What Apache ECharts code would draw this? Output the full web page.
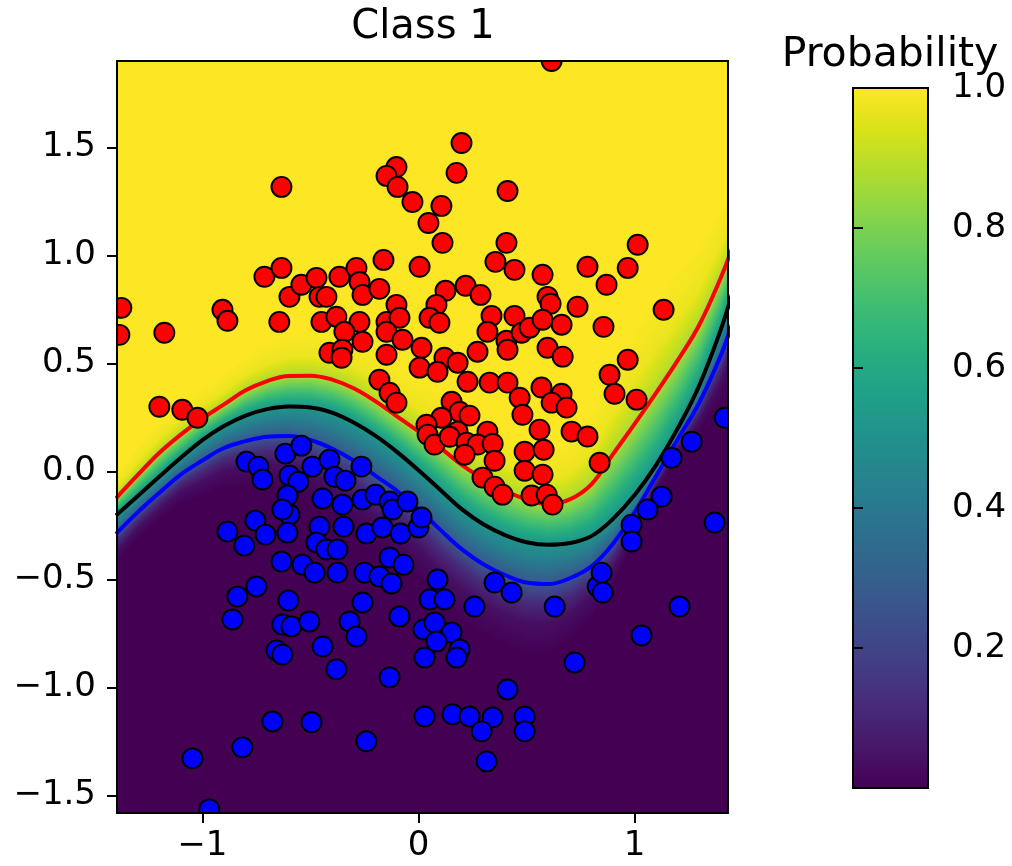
<!DOCTYPE html>
<html>
<head>
<meta charset="utf-8">
<script src="https://cdn.jsdelivr.net/npm/echarts@6/dist/echarts.min.js"></script>
<style>
html,body{margin:0;padding:0;background:#fff;}
#chart{width:1012px;height:866px;}
</style>
</head>
<body>
<div id="chart"></div>
<script>
// ---------- data ----------
const xTicks = [-1, 0, 1];
const yTicks = [-1.5, -1.0, -0.5, 0.0, 0.5, 1.0, 1.5];
const colorbarTicks = [0.2, 0.4, 0.6, 0.8, 1.0];

// contour lines of the probability surface (x positions and y values)
const curveX = [-1.40,-1.30,-1.20,-1.10,-1.00,-0.90,-0.80,-0.70,-0.60,-0.50,-0.40,-0.30,-0.20,-0.10,0.00,0.10,0.20,0.30,0.40,0.50,0.60,0.70,0.80,0.90,1.00,1.10,1.20,1.30,1.40,1.45];
const upperY = [-0.125,-0.018,0.085,0.170,0.245,0.310,0.375,0.418,0.442,0.443,0.425,0.385,0.325,0.255,0.185,0.110,0.030,-0.035,-0.090,-0.130,-0.152,-0.130,-0.060,0.080,0.220,0.365,0.515,0.680,0.900,1.030];
const boundaryY = [-0.205,-0.115,-0.025,0.063,0.145,0.210,0.258,0.288,0.300,0.296,0.272,0.226,0.165,0.090,0.005,-0.085,-0.175,-0.245,-0.295,-0.328,-0.340,-0.332,-0.300,-0.220,-0.110,0.030,0.200,0.400,0.660,0.820];
const lowerY = [-0.290,-0.190,-0.100,-0.015,0.050,0.108,0.140,0.160,0.164,0.145,0.105,0.050,-0.020,-0.090,-0.175,-0.270,-0.360,-0.430,-0.480,-0.515,-0.522,-0.495,-0.440,-0.335,-0.190,-0.020,0.150,0.320,0.540,0.680];

// class 1 (red) samples
const class1Points = [
[0.616,1.900],[0.199,1.520],[-0.634,1.317],[-0.102,1.409],[-0.148,1.368],[-0.097,1.317],[-0.028,1.247],[0.046,1.150],[0.176,1.382],[0.412,1.298],[0.106,1.229],[0.111,1.058],[0.407,1.058],[0.356,0.970],[0.444,0.933],[0.574,0.910],[0.782,0.947],[1.014,1.049],[0.968,0.942],[0.870,0.864],[0.125,0.836],[0.218,0.859],[0.287,0.817],[0.083,0.771],[0.051,0.711],[0.097,0.688],[0.597,0.808],[0.611,0.776],[0.736,0.762],[1.134,0.748],[0.338,0.720],[0.444,0.720],[0.005,0.947],
[-0.713,0.901],[-0.634,0.942],[-0.597,0.808],[-0.542,0.864],[-0.472,0.896],[-0.458,0.808],[-0.426,0.808],[-0.366,0.901],[-0.287,0.942],[-0.273,0.877],[-0.259,0.817],[-0.181,0.845],[-0.162,0.979],[-1.375,0.757],[-1.384,0.632],[-1.176,0.642],[-0.907,0.748],[-0.884,0.697],[-0.644,0.692],[-0.449,0.692],[-0.380,0.716],[-0.273,0.692],[-0.343,0.646],[-0.259,0.600],[-0.412,0.549],[-0.352,0.563],[-0.356,0.526],[-0.148,0.692],[-0.102,0.771],[-0.088,0.711],[-0.148,0.646],[-0.074,0.609],[-0.148,0.540],[0.014,0.572],[0.005,0.480],[-0.181,0.424],[-0.134,0.364],[-0.102,0.318],[-1.199,0.299],[-1.093,0.285],[-1.023,0.248],
[0.319,0.646],[0.407,0.605],[0.412,0.563],[0.477,0.642],[0.514,0.665],[0.574,0.702],[0.662,0.679],[0.856,0.669],[0.597,0.572],[0.667,0.531],[0.120,0.526],[0.181,0.503],[0.273,0.554],[0.088,0.461],[0.227,0.415],[0.329,0.411],[0.412,0.411],[0.569,0.388],[0.662,0.359],[0.968,0.517],[0.884,0.447],[0.907,0.359],[1.009,0.332],[0.153,0.322],[0.468,0.341],[0.616,0.318],[0.685,0.295],[0.190,0.276],[0.236,0.258],[0.106,0.248],[0.181,0.184],[0.319,0.184],[0.037,0.216],[0.042,0.170],[0.074,0.124],[0.144,0.160],[0.222,0.133],[0.273,0.124],[0.343,0.128],[0.213,0.077],[0.352,0.049],[0.491,0.091],[0.579,0.100],[0.560,0.193],[0.708,0.184],[0.782,0.161],[0.491,0.003],[0.574,-0.015],[0.838,0.040],[0.296,-0.029],[0.352,-0.071],[0.389,-0.108],[0.523,-0.112],[0.593,-0.108],[0.620,-0.154],[0.481,0.262]
];

// class 0 (blue) samples
const class0Points = [
[-0.796,0.045],[-0.741,0.022],[-0.722,-0.038],[-0.616,0.082],[-0.542,0.119],[-0.597,-0.020],[-0.556,-0.048],[-0.491,0.022],[-0.412,0.054],[-0.389,-0.025],[-0.338,-0.043],[-0.264,0.022],[-0.606,-0.112],[-0.444,-0.126],[-0.352,-0.154],[-0.259,-0.131],[-0.199,-0.108],[-0.134,-0.140],[-0.120,-0.177],[-0.051,-0.140],[-0.597,-0.200],[-0.630,-0.177],[-0.755,-0.228],[-0.884,-0.279],[-0.708,-0.293],[-0.606,-0.284],[-0.806,-0.344],[-0.458,-0.256],[-0.347,-0.256],[-0.241,-0.288],[-0.167,-0.260],[-0.083,-0.288],[0.000,-0.260],[-0.472,-0.330],[-0.426,-0.362],[-0.375,-0.362],[-0.634,-0.418],[-0.537,-0.432],[-0.481,-0.469],[-0.375,-0.469],[-0.250,-0.469],[-0.134,-0.399],[-0.069,-0.432],[-0.181,-0.487],[-0.125,-0.519],[-0.750,-0.533],[-0.838,-0.580],[-0.602,-0.598],[-0.259,-0.607],[0.051,-0.593],[-0.861,-0.686],[-0.630,-0.709],[-0.588,-0.718],[-0.505,-0.695],[-0.657,-0.829],[-0.630,-0.848],[-0.444,-0.811],[-0.380,-0.917],[-0.319,-0.695],[-0.287,-0.765],[-0.134,-0.954],[-0.088,-0.672],[0.023,-0.732],[0.028,-0.862],[-0.676,-1.158],[-0.495,-1.162],[-0.815,-1.278],[-1.046,-1.329],[-0.241,-1.250],[0.028,-1.135],[-0.968,-1.565],
[0.088,-0.501],[0.120,-0.593],[0.259,-0.626],[0.074,-0.700],[0.153,-0.746],[0.083,-0.788],[0.190,-0.825],[0.176,-0.862],[0.352,-0.515],[0.431,-0.561],[0.630,-0.626],[0.829,-0.533],[0.847,-0.469],[0.852,-0.561],[1.208,-0.626],[1.032,-0.760],[0.722,-0.885],[0.412,-1.010],[0.157,-1.125],[0.236,-1.135],[0.343,-1.139],[0.292,-1.204],[0.491,-1.135],[0.491,-1.204],[0.315,-1.343],[1.417,0.248],[1.264,0.137],[1.171,0.063],[1.125,-0.117],[1.060,-0.177],[0.986,-0.247],[0.986,-0.325],[1.370,-0.237],[0.014,-0.214]
];

// ---------- styling ----------
const X_MIN = -1.395, X_MAX = 1.432, Y_MIN = -1.582, Y_MAX = 1.90;
const FONT = 'DejaVu Sans';
const VIRIDIS = ['#440154','#48186a','#472d7b','#424086','#3b528b','#33638d','#2c728e','#26828e','#21918c','#1fa088','#28ae80','#3fbc73','#5ec962','#84d44b','#addc30','#d8e219','#fde725'];
// colour profile across the contour band: [offset in contour gaps, probability]
const bandProfile = [[2.4,1.0],[1.6,0.97],[1.0,0.87],[0.5,0.70],[0.0,0.52],[-0.5,0.40],[-1.0,0.27],[-1.5,0.12],[-2.0,0.04],[-2.8,0.0]];

function hexToRgb(h){return [parseInt(h.slice(1,3),16),parseInt(h.slice(3,5),16),parseInt(h.slice(5,7),16)];}
function viridis(p){
  p = Math.max(0, Math.min(1, p));
  const n = VIRIDIS.length - 1, f = p * n;
  const i = Math.min(n - 1, Math.floor(f)), t = f - i;
  const a = hexToRgb(VIRIDIS[i]), b = hexToRgb(VIRIDIS[i + 1]);
  return 'rgb(' + a.map((v, k) => Math.round(v + (b[k] - v) * t)).join(',') + ')';
}
function profileProb(s){
  if (s >= bandProfile[0][0]) return bandProfile[0][1];
  const last = bandProfile[bandProfile.length - 1];
  if (s <= last[0]) return last[1];
  for (let k = 0; k < bandProfile.length - 1; k++) {
    const [s0, p0] = bandProfile[k], [s1, p1] = bandProfile[k + 1];
    if (s <= s0 && s >= s1) return p0 + (p1 - p0) * (s0 - s) / (s0 - s1);
  }
  return 0;
}

function renderField(params, api){
  const tl = api.coord([X_MIN, Y_MAX]), br = api.coord([X_MAX, Y_MIN]);
  const top = tl[1], bottom = br[1], left = tl[0], right = br[0];
  const children = [{type:'rect', shape:{x:left, y:top, width:right-left, height:bottom-top}, style:{fill: viridis(1)}}];
  const STEP = 0.04;
  for (let s = 2.4; s > -2.8 - 1e-9; s -= STEP) {
    const pts = curveX.map((x, i) => {
      const b = boundaryY[i];
      const gap = s >= 0 ? (upperY[i] - b) : (b - lowerY[i]);
      const c = api.coord([x, b + s * gap]);
      return [c[0], Math.max(top - 2, Math.min(bottom + 2, c[1]))];
    });
    pts.push([pts[pts.length - 1][0], bottom + 2], [pts[0][0], bottom + 2]);
    children.push({type:'polygon', shape:{points: pts}, style:{fill: viridis(profileProb(s - STEP / 2))}});
  }
  return {type:'group', children};
}

function pointRenderer(color){
  return function(params, api){
    const c = api.coord([api.value(0), api.value(1)]);
    return {type:'circle', shape:{cx:c[0], cy:c[1], r:10}, style:{fill:color, stroke:'#000', lineWidth:1.9}};
  };
}

function renderColorbar(params, api){
  const a = api.coord([0, 1]), b = api.coord([1, 0]);
  const stops = VIRIDIS.map((c, i) => ({offset: 1 - i / (VIRIDIS.length - 1), color: c}));
  return {type:'rect', shape:{x:a[0], y:a[1], width:b[0]-a[0], height:b[1]-a[1]},
    style:{fill: new echarts.graphic.LinearGradient(0, 0, 0, 1, stops), stroke:'#000', lineWidth:2}};
}

const fmt1 = v => (v < 0 ? '\u2212' : '') + Math.abs(v).toFixed(1);
const fmt0 = v => (v < 0 ? '\u2212' : '') + Math.abs(v).toFixed(0);
const labelStyle = {color:'#000', fontSize:34, fontFamily:FONT};
const frameLine = {show:true, onZero:false, lineStyle:{color:'#000', width:2}};

const chart = echarts.init(document.getElementById('chart'), null, {renderer:'canvas'});
chart.setOption({
  animation:false,
  backgroundColor:'#fff',
  grid:[
    {left:117, top:61, width:611, height:752, containLabel:false, outerBoundsMode:'none'},
    {left:853, top:88, width:75, height:700, containLabel:false, outerBoundsMode:'none'}
  ],
  xAxis:[
    {gridIndex:0, type:'value', min:X_MIN, max:X_MAX, position:'bottom', z:10,
     axisLine:frameLine, splitLine:{show:false},
     axisTick:{show:true, length:10, lineStyle:{color:'#000', width:2}, customValues:xTicks},
     axisLabel:Object.assign({customValues:xTicks, formatter:fmt0, margin:16}, labelStyle)},
    {gridIndex:0, type:'value', min:X_MIN, max:X_MAX, position:'top', z:10,
     axisLine:frameLine, splitLine:{show:false}, axisTick:{show:false}, axisLabel:{show:false}},
    {gridIndex:1, type:'value', min:0, max:1, show:false}
  ],
  yAxis:[
    {gridIndex:0, type:'value', min:Y_MIN, max:Y_MAX, position:'left', z:10,
     axisLine:frameLine, splitLine:{show:false},
     axisTick:{show:true, length:10, lineStyle:{color:'#000', width:2}, customValues:yTicks},
     axisLabel:Object.assign({customValues:yTicks, formatter:fmt1, margin:21}, labelStyle)},
    {gridIndex:0, type:'value', min:Y_MIN, max:Y_MAX, position:'right', z:10,
     axisLine:frameLine, splitLine:{show:false}, axisTick:{show:false}, axisLabel:{show:false}},
    {gridIndex:1, type:'value', min:0, max:1, position:'right', z:10,
     axisLine:{show:false}, splitLine:{show:false},
     axisTick:{show:true, length:10, lineStyle:{color:'#000', width:2}, customValues:colorbarTicks},
     axisLabel:Object.assign({customValues:colorbarTicks, formatter:fmt1, margin:24}, labelStyle)}
  ],
  graphic:[
    {type:'text', x:423, y:28, style:{text:'Class 1', font:'40px "DejaVu Sans"', fill:'#000', textAlign:'center', textVerticalAlign:'middle'}},
    {type:'text', x:890, y:55, style:{text:'Probability', font:'41px "DejaVu Sans"', fill:'#000', textAlign:'center', textVerticalAlign:'middle'}}
  ],
  series:[
    {type:'custom', name:'probability', xAxisIndex:0, yAxisIndex:0, z:1, clip:true, silent:true,
     data:[[X_MIN, Y_MIN]], renderItem:renderField},
    {type:'line', name:'upper', xAxisIndex:0, yAxisIndex:0, z:3, smooth:0.4, showSymbol:false, symbol:'none', silent:true,
     data:curveX.map((x, i) => [x, upperY[i]]), lineStyle:{color:'#ff0000', width:4}},
    {type:'line', name:'boundary', xAxisIndex:0, yAxisIndex:0, z:3, smooth:0.4, showSymbol:false, symbol:'none', silent:true,
     data:curveX.map((x, i) => [x, boundaryY[i]]), lineStyle:{color:'#000000', width:4}},
    {type:'line', name:'lower', xAxisIndex:0, yAxisIndex:0, z:3, smooth:0.4, showSymbol:false, symbol:'none', silent:true,
     data:curveX.map((x, i) => [x, lowerY[i]]), lineStyle:{color:'#0000ff', width:4}},
    {type:'custom', name:'class 1', xAxisIndex:0, yAxisIndex:0, z:5, clip:true, silent:true,
     data:class1Points, encode:{x:0, y:1}, renderItem:pointRenderer('#ff0000')},
    {type:'custom', name:'class 0', xAxisIndex:0, yAxisIndex:0, z:5, clip:true, silent:true,
     data:class0Points, encode:{x:0, y:1}, renderItem:pointRenderer('#0000ff')},
    {type:'custom', name:'colorbar', xAxisIndex:2, yAxisIndex:2, z:1, silent:true,
     data:[[0, 0]], renderItem:renderColorbar}
  ]
});
</script>
</body>
</html>
